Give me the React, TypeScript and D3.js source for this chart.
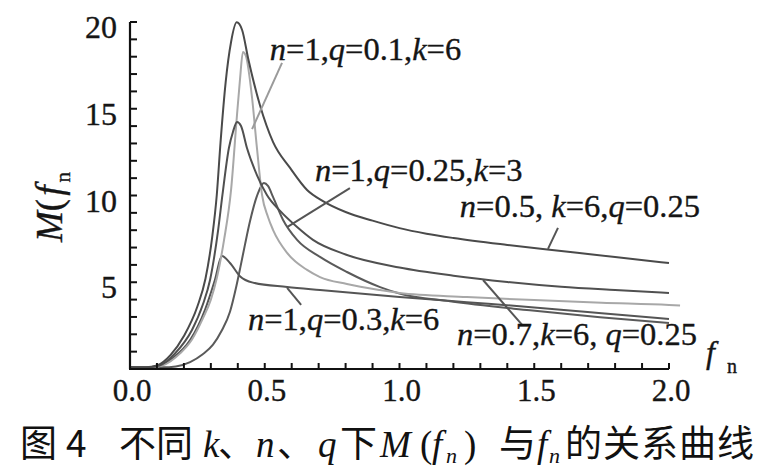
import React from 'react';
import * as d3 from 'd3';

// ---------- data ----------
const yTickValues = [5, 10, 15, 20];
const yTickLabels = ['5', '10', '15', '20'];
const xTickValues = [0, 0.5, 1.0, 1.5, 2.0];
const xTickLabels = ['0.0', '0.5', '1.0', '1.5', '2.0'];

// n=0.5, k=6, q=0.25
const seriesN05: [number, number][] = [
  [0, 0.1], [0.06, 0.1], [0.1, 0.2], [0.15, 0.8], [0.2, 1.9], [0.25, 3.6], [0.28, 5.2], [0.305, 7.6],
  [0.322, 10.03], [0.336, 13.08], [0.355, 16.54], [0.375, 18.85], [0.396, 19.98], [0.416, 19.54],
  [0.438, 17.93], [0.482, 15.22], [0.531, 13.08], [0.594, 11.59], [0.657, 10.32], [0.716, 9.68],
  [0.8, 9.05], [0.9, 8.55], [1.0, 8.12], [1.1, 7.8], [1.2, 7.55], [1.4, 7.15], [1.6, 6.8],
  [1.8, 6.45], [2.0, 6.11],
];
// n=1, q=0.1, k=6 (light)
const seriesQ01: [number, number][] = [
  [0, 0.1], [0.08, 0.1], [0.12, 0.2], [0.186, 0.9], [0.23, 1.7], [0.27, 2.9], [0.3, 4.0], [0.323, 5.3],
  [0.349, 7.44], [0.375, 10.32], [0.397, 14.64], [0.408, 16.66], [0.419, 18.27], [0.43, 18.04],
  [0.453, 15.62], [0.471, 12.74], [0.49, 10.03], [0.512, 8.76], [0.531, 8.01], [0.583, 6.69],
  [0.657, 5.71], [0.705, 5.3], [0.805, 4.9], [0.928, 4.55], [1.0, 4.38], [1.25, 4.15],
  [1.5, 3.97], [1.75, 3.82], [2.0, 3.69], [2.041, 3.66],
];
// n=0.7, k=6, q=0.25
const seriesN07: [number, number][] = [
  [0, 0.1], [0.07, 0.1], [0.11, 0.2], [0.167, 0.9], [0.23, 2.25], [0.27, 3.7], [0.297, 5.13],
  [0.327, 8.01], [0.343, 10.03], [0.367, 12.74], [0.382, 13.66], [0.397, 14.24], [0.412, 14.01],
  [0.434, 12.74], [0.471, 11.18], [0.508, 10.03], [0.557, 9.11], [0.62, 8.18], [0.679, 7.44],
  [0.8, 6.6], [1.0, 5.85], [1.2, 5.38], [1.4, 5.02], [1.6, 4.74], [1.8, 4.55], [2.0, 4.38],
];
// n=1, q=0.3, k=6
const seriesQ03: [number, number][] = [
  [0, 0.1], [0.07, 0.1], [0.11, 0.2], [0.16, 0.65], [0.223, 1.67], [0.278, 3.4], [0.315, 5.13],
  [0.341, 6.51], [0.371, 6.11], [0.408, 5.35], [0.456, 4.98], [0.583, 4.73], [0.705, 4.55],
  [1.0, 4.15], [1.25, 3.85], [1.5, 3.55], [1.75, 3.22], [2.0, 2.88],
];
// n=1, q=0.25, k=3
const seriesK3: [number, number][] = [
  [0, 0.1], [0.12, 0.1], [0.17, 0.15], [0.223, 0.4], [0.27, 0.85], [0.308, 1.4], [0.34, 2.2],
  [0.371, 3.3], [0.395, 4.8], [0.41, 5.9], [0.427, 7.2], [0.445, 8.5], [0.475, 10.14],
  [0.497, 10.72], [0.512, 10.55], [0.531, 9.91], [0.568, 8.59], [0.62, 7.44], [0.705, 6.46],
  [0.805, 5.59], [0.928, 4.72], [1.0, 4.35], [1.187, 3.9], [1.484, 3.38], [1.744, 2.98],
  [2.0, 2.65],
];

const seriesList = [
  { data: seriesK3, color: '#5a5a5a' },
  { data: seriesQ03, color: '#555555' },
  { data: seriesQ01, color: '#a8a8a8' },
  { data: seriesN07, color: '#505050' },
  { data: seriesN05, color: '#4a4a4a' },
];

type Part = [string, 'i' | 'r'];
const annotations: { parts: Part[]; at: [number, number] }[] = [
  { parts: [['n', 'i'], ['=1,', 'r'], ['q', 'i'], ['=0.1,', 'r'], ['k', 'i'], ['=6', 'r']], at: [0.519, 17.81] },
  { parts: [['n', 'i'], ['=1,', 'r'], ['q', 'i'], ['=0.25,', 'r'], ['k', 'i'], ['=3', 'r']], at: [0.686, 10.84] },
  { parts: [['n', 'i'], ['=0.5, ', 'r'], ['k', 'i'], ['=6,', 'r'], ['q', 'i'], ['=0.25', 'r']], at: [1.224, 8.76] },
  { parts: [['n', 'i'], ['=1,', 'r'], ['q', 'i'], ['=0.3,', 'r'], ['k', 'i'], ['=6', 'r']], at: [0.438, 2.25] },
  { parts: [['n', 'i'], ['=0.7,', 'r'], ['k', 'i'], ['=6, ', 'r'], ['q', 'i'], ['=0.25', 'r']], at: [1.213, 1.38] },
];

const leaders: { from: [number, number]; to: [number, number]; color: string }[] = [
  { from: [0.564, 17.64], to: [0.453, 13.83], color: '#9a9a9a' },
  { from: [0.816, 10.43], to: [0.583, 8.18], color: '#555555' },
  { from: [1.588, 8.13], to: [1.551, 6.92], color: '#555555' },
  { from: [1.31, 5.13], to: [1.455, 2.54], color: '#555555' },
  { from: [0.583, 4.67], to: [0.635, 3.69], color: '#555555' },
];

const serif = { fontFamily: '"Liberation Serif"' };
const cjk = { fontFamily: '"Noto Sans CJK SC"' };

export default function App() {
  const x = d3.scaleLinear().domain([0, 2]).range([130, 669]);
  const y = d3.scaleLinear().domain([0, 20]).range([369, 22]);
  const line = d3
    .line<[number, number]>()
    .x((d) => x(d[0]))
    .y((d) => y(d[1]))
    .curve(d3.curveMonotoneX);

  const yMinor = d3.range(1, 21);
  const xMinor = d3.range(1, 21).map((i) => i / 10);
  const labelSize = 32.5;
  const ink = { fill: '#151515', stroke: '#151515', strokeWidth: 0.35 };

  return (
    <svg width={770} height={467} style={{ position: 'absolute', left: 0, top: 0, background: '#fff' }}>
      <rect x={0} y={0} width={770} height={467} fill="#fff" />
      {seriesList.map((s, i) => (
        <path key={i} d={line(s.data) || ''} fill="none" stroke={s.color} strokeWidth={2} />
      ))}
      {leaders.map((l, i) => (
        <line key={i} x1={x(l.from[0])} y1={y(l.from[1])} x2={x(l.to[0])} y2={y(l.to[1])} stroke={l.color} strokeWidth={2} />
      ))}
      <line x1={x(0)} y1={y(0)} x2={x(0)} y2={y(20)} stroke="#111" strokeWidth={2.2} />
      <line x1={x(0) - 1} y1={y(0)} x2={x(2)} y2={y(0)} stroke="#111" strokeWidth={2.2} />
      {yMinor.map((v) => (
        <line key={'yt' + v} x1={x(0)} x2={x(0) + 7} y1={y(v)} y2={y(v)} stroke="#111" strokeWidth={2} />
      ))}
      {xMinor.map((v) => (
        <line key={'xt' + v} x1={x(v)} x2={x(v)} y1={y(0)} y2={y(0) - 6} stroke="#111" strokeWidth={2} />
      ))}
      {yTickValues.map((v, i) => (
        <text key={'yl' + v} x={x(0) - 13} y={y(v) + 16} textAnchor="end" style={serif} fontSize={32} {...ink}>
          {yTickLabels[i]}
        </text>
      ))}
      {xTickValues.map((v, i) => (
        <text key={'xl' + v} x={x(v) + 2} y={401} textAnchor="middle" style={serif} fontSize={31} {...ink}>
          {xTickLabels[i]}
        </text>
      ))}
      <text x={706} y={363} style={serif} fontSize={32} {...ink}>
        <tspan fontStyle="italic">f</tspan>
        <tspan x={727} y={373} fontSize={20}>n</tspan>
      </text>
      <text transform="translate(62,242) rotate(-90)" style={serif} fontSize={37} {...ink}>
        <tspan fontStyle="italic">M</tspan>
        <tspan>(</tspan>
        <tspan fontStyle="italic" dx={3}>f</tspan>
        <tspan fontSize={21} dy={8} dx={3}>n</tspan>
      </text>
      {annotations.map((a, i) => (
        <text key={'an' + i} x={x(a.at[0])} y={y(a.at[1])} style={{ ...serif, whiteSpace: 'pre' }} fontSize={labelSize} {...ink}>
          {a.parts.map((p, j) => (
            <tspan key={j} fontStyle={p[1] === 'i' ? 'italic' : 'normal'}>
              {p[0]}
            </tspan>
          ))}
        </text>
      ))}
      <text y={457} fontSize={37} fill="#111" style={{ ...cjk, whiteSpace: 'pre' }}>
        <tspan x={20}>图</tspan>
        <tspan x={66}>4</tspan>
        <tspan x={119}>不同</tspan>
        <tspan x={203} style={serif} fontStyle="italic">k</tspan>
        <tspan x={218}>、</tspan>
        <tspan x={256} style={serif} fontStyle="italic">n</tspan>
        <tspan x={277}>、</tspan>
        <tspan x={318} style={serif} fontStyle="italic">q</tspan>
        <tspan x={340}>下</tspan>
        <tspan x={380} style={serif} fontStyle="italic">M</tspan>
        <tspan x={420} style={serif}>(</tspan>
        <tspan x={432} style={serif} fontStyle="italic">f</tspan>
        <tspan x={446} dy={6} fontSize={22} style={serif} fontStyle="italic">n</tspan>
        <tspan x={464} dy={-6} style={serif}>)</tspan>
        <tspan x={499}>与</tspan>
        <tspan x={537} style={serif} fontStyle="italic">f</tspan>
        <tspan x={549} dy={6} fontSize={22} style={serif} fontStyle="italic">n</tspan>
        <tspan x={565} dy={-6} letterSpacing={1}>的关系曲线</tspan>
      </text>
    </svg>
  );
}
